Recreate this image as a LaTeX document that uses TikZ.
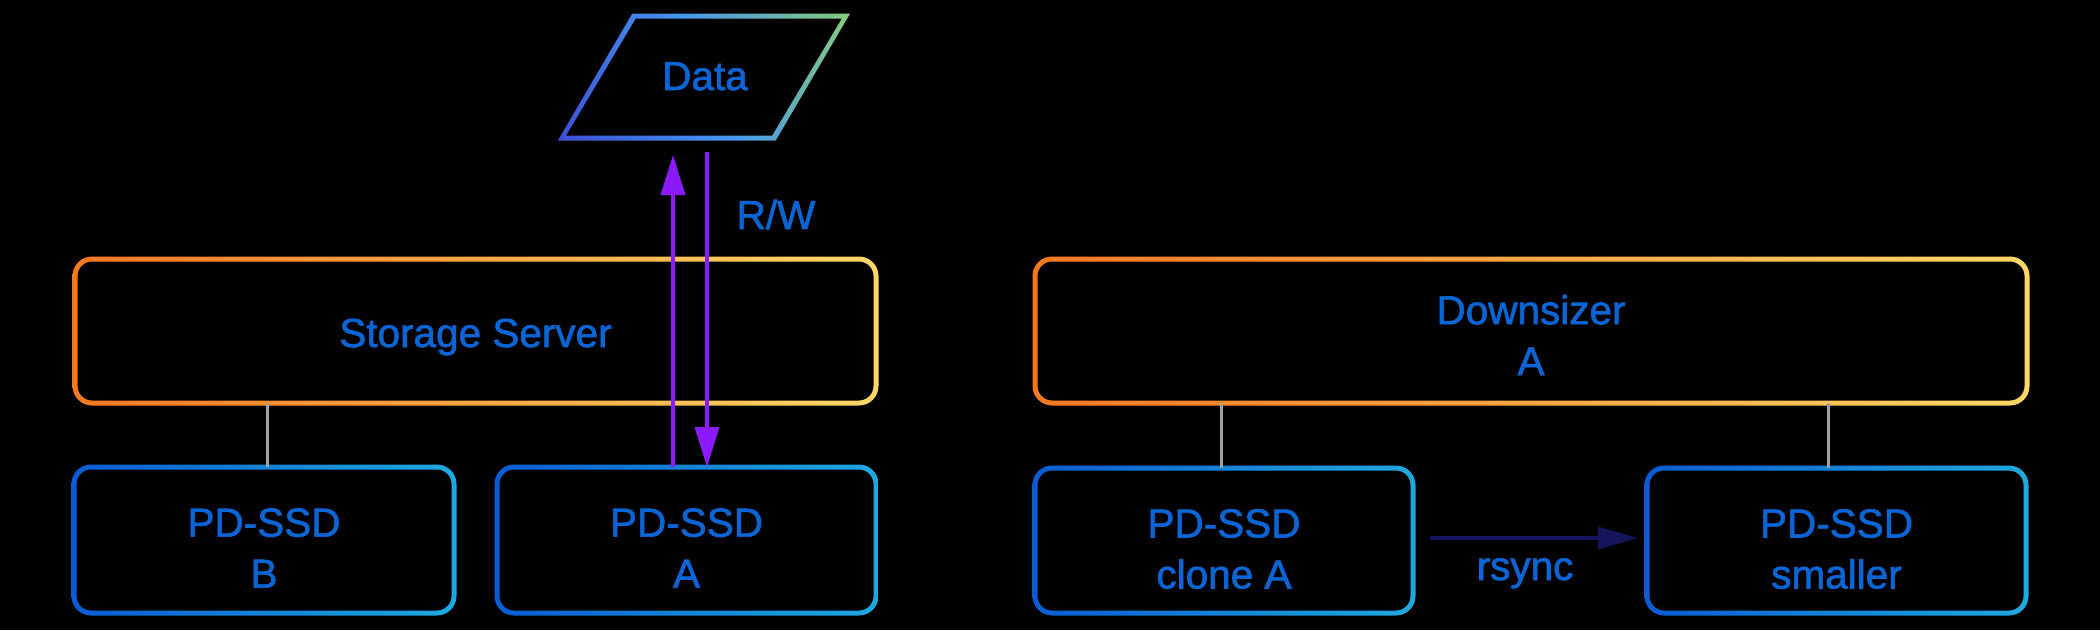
\documentclass[tikz,border=0pt]{standalone}
\usepackage{fontspec}
\setmainfont{Liberation Sans}
\newfontfamily\lblfont{Liberation Sans}[FakeBold=1.5]
\usetikzlibrary{arrows.meta,calc}
\definecolor{txtblue}{RGB}{10,102,214}
\definecolor{orL}{RGB}{245,120,30}
\definecolor{orR}{RGB}{255,215,100}
\definecolor{blL}{RGB}{10,92,210}
\definecolor{blR}{RGB}{30,170,222}
\definecolor{dtA}{RGB}{55,40,200}
\definecolor{dtB}{RGB}{70,150,240}
\definecolor{dtC}{RGB}{170,232,60}
\definecolor{conngray}{RGB}{160,160,160}
\definecolor{rwpurple}{RGB}{140,26,255}
\definecolor{syncnavy}{RGB}{22,20,92}
\pgfdeclarehorizontalshading{datagrad}{100bp}{color(0bp)=(dtA); color(50bp)=(dtB); color(100bp)=(dtC)}
\tikzset{
  boxnode/.style={rectangle, draw=none, inner sep=0pt, outer sep=0pt},
  lbl/.style={text=txtblue, font=\lblfont\fontsize{40.5pt}{51pt}\selectfont, align=center, inner sep=0pt},
  conn/.style={draw=conngray, line width=3pt},
  rwarrow/.style={draw=rwpurple, line width=3.5pt, -{Triangle[length=40pt,width=24pt,fill=rwpurple]}},
  syncarrow/.style={draw=syncnavy, line width=3.5pt, -{Triangle[length=40pt,width=22pt,fill=syncnavy]}}
}
\newcommand\gradbox[3]{%
  \shade[even odd rule, left color=#2, right color=#3]
    [rounded corners=19.5pt] ([shift={(-2.5,-2.5)}]#1.north west) rectangle ([shift={(2.5,2.5)}]#1.south east)
    [rounded corners=14.5pt] ([shift={(2.5,2.5)}]#1.north west) rectangle ([shift={(-2.5,-2.5)}]#1.south east);
}
\begin{document}
\begin{tikzpicture}[x=1pt,y=-1pt]
\fill[black] (0,0) rectangle (2100,630);
\useasboundingbox (0,0) rectangle (2100,630);

% boxes
\node[boxnode, minimum width=801pt, minimum height=144pt] (ss) at (475.5,331) {};
\node[boxnode, minimum width=380pt, minimum height=146pt] (ssdB) at (264,540) {};
\node[boxnode, minimum width=379pt, minimum height=146pt] (ssdA) at (686.5,540) {};
\node[boxnode, minimum width=992pt, minimum height=144pt] (ds) at (1531,331) {};
\node[boxnode, minimum width=378pt, minimum height=145pt] (clA) at (1224,540.5) {};
\node[boxnode, minimum width=379pt, minimum height=145pt] (sm) at (1836.5,540.5) {};

\gradbox{ss}{orL}{orR}
\gradbox{ds}{orL}{orR}
\gradbox{ssdB}{blL}{blR}
\gradbox{ssdA}{blL}{blR}
\gradbox{clA}{blL}{blR}
\gradbox{sm}{blL}{blR}

% data parallelogram
\shade[even odd rule, shading=datagrad, shading angle=20]
  (632.3,13.5) -- (850.1,13.5) -- (775.7,140.5) -- (557.9,140.5) -- cycle
  (635.7,18.5) -- (841.9,18.5) -- (772.3,135.5) -- (566.1,135.5) -- cycle;

% labels
\node[lbl, anchor=base] (dataL) at (705,90) {Data};
\node[lbl, anchor=base] (ssL) at (475.5,347) {Storage Server};
\node[lbl] (ssdBL) at (264,548) {PD-SSD\\B};
\node[lbl] (ssdAL) at (686.5,548) {PD-SSD\\A};
\node[lbl] (dsL) at (1531,335) {Downsizer\\A};
\node[lbl] (clAL) at (1224,549) {PD-SSD\\clone A};
\node[lbl] (smL) at (1836.5,549) {PD-SSD\\smaller};
\node[lbl, anchor=base] (rwL) at (776,229) {R/W};
\node[lbl, anchor=base] (syncL) at (1525,580) {rsync};

% gray connectors
\draw[conn] ([xshift=3pt]ssdB.north) -- ([xshift=3pt]ssdB.north |- ss.south);
\draw[conn] ([xshift=-3pt]clA.north) -- ([xshift=-3pt]clA.north |- ds.south);
\draw[conn] ([xshift=-8.5pt]sm.north) -- ([xshift=-8.5pt]sm.north |- ds.south);

% R/W arrows
\coordinate (upEnd) at (673,155);
\coordinate (dnStart) at (707,152);
\draw[rwarrow] ([xshift=-13.5pt]ssdA.north) -- (upEnd);
\draw[rwarrow] (dnStart) -- ([xshift=20.5pt]ssdA.north);

% rsync arrow
\draw[syncarrow] ([xshift=17pt,yshift=2.5pt]clA.east) -- ([xshift=-9pt,yshift=2.5pt]sm.west);
\end{tikzpicture}
\end{document}
